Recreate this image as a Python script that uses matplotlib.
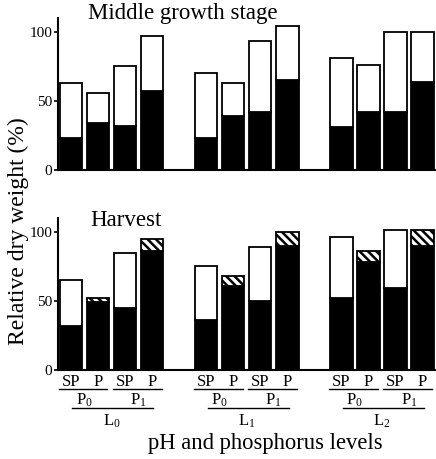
import matplotlib
matplotlib.use('Agg')
import matplotlib.pyplot as plt
from matplotlib.transforms import blended_transform_factory

plt.rcParams['font.family'] = ['Liberation Serif', 'DejaVu Serif']
plt.rcParams['mathtext.fontset'] = 'custom'
plt.rcParams['mathtext.rm'] = 'Liberation Serif'
plt.rcParams['mathtext.it'] = 'Liberation Serif:italic'
plt.rcParams['hatch.linewidth'] = 1.8

# --- datos ---
levels = ['L$_0$', 'L$_1$', 'L$_2$']
p_levels = ['P$_0$', 'P$_1$']
sources = ['SP', 'P']

mid_total = [63, 56, 75, 97, 70, 63, 93, 104, 81, 76, 100, 100]
mid_black = [23, 34, 32, 57, 23, 39, 42, 65, 31, 42, 42, 64]

harv_total = [65, 52, 85, 95, 75, 68, 89, 100, 96, 86, 101, 101]
harv_black = [32, 49, 45, 86, 36, 61, 50, 90, 52, 78, 59, 90]

# posiciones: 4 barras por nivel, hueco de una barra entre niveles
pos = [g * 5 + i for g in range(len(levels)) for i in range(4)]
is_p = [sources[i % 2] == 'P' for i in range(len(pos))]

W, H = 436, 459
fig = plt.figure(figsize=(W / 100, H / 100), dpi=100)

def fy(px):
    return 1 - px / H

ax1 = fig.add_axes([58 / W, fy(170), 1 - 58 / W, (170 - 18) / H])
ax2 = fig.add_axes([58 / W, fy(370), 1 - 58 / W, (370 - 218) / H])

bw = 0.83
lw = 1.3

def draw(ax, total, black, hatch_p):
    for x, t, b, p in zip(pos, total, black, is_p):
        ax.bar(x, b, width=bw, color='black', edgecolor='black', linewidth=lw)
        if hatch_p and p:
            ax.bar(x, t - b, bottom=b, width=bw, color='white', edgecolor='black',
                   linewidth=lw, hatch='\\' * 4)
        else:
            ax.bar(x, t - b, bottom=b, width=bw, color='white', edgecolor='black',
                   linewidth=lw)
    ax.set_xlim(-0.48, 13.5)
    ax.set_ylim(0, 110)
    ax.set_yticks([0, 50, 100])
    ax.set_xticks([])
    for s in ['top', 'right']:
        ax.spines[s].set_visible(False)
    for s in ['left', 'bottom']:
        ax.spines[s].set_linewidth(1.5)
    ax.tick_params(axis='y', direction='out', length=3, width=1.2, labelsize=11, pad=1)

draw(ax1, mid_total, mid_black, False)
draw(ax2, harv_total, harv_black, True)

fig.text(88 / W, fy(14), 'Middle growth stage', fontsize=16.5, ha='left', va='center')
fig.text(90 / W, fy(220), 'Harvest', fontsize=16.5, ha='left', va='center')
fig.text(18 / W, fy(231), 'Relative dry weight (%)', fontsize=17, rotation=90,
         ha='center', va='center')
fig.text(265 / W, fy(444), 'pH and phosphorus levels', fontsize=16.3,
         ha='center', va='center')

# --- etiquetas jerárquicas bajo el eje ---
tr = blended_transform_factory(ax2.transData, fig.transFigure)
for i, x in enumerate(pos):
    ax2.text(x, fy(382), sources[i % 2], transform=tr, fontsize=12,
             ha='center', va='center', clip_on=False)
for g in range(len(levels)):
    g0 = g * 5
    for k in range(len(p_levels)):
        c = g0 + 2 * k + 0.5
        ax2.plot([c - 0.95, c + 0.85], [fy(389), fy(389)], transform=tr,
                 color='black', lw=1.0, clip_on=False)
        ax2.text(c, fy(400), p_levels[k], transform=tr, fontsize=12,
                 ha='center', va='center', clip_on=False)
    ax2.plot([g0 + 0.05, g0 + 3.05], [fy(408), fy(408)], transform=tr,
             color='black', lw=1.0, clip_on=False)
    ax2.text(g0 + 1.5, fy(421), levels[g], transform=tr, fontsize=12,
             ha='center', va='center', clip_on=False)

fig.savefig('out.png', dpi=100)
